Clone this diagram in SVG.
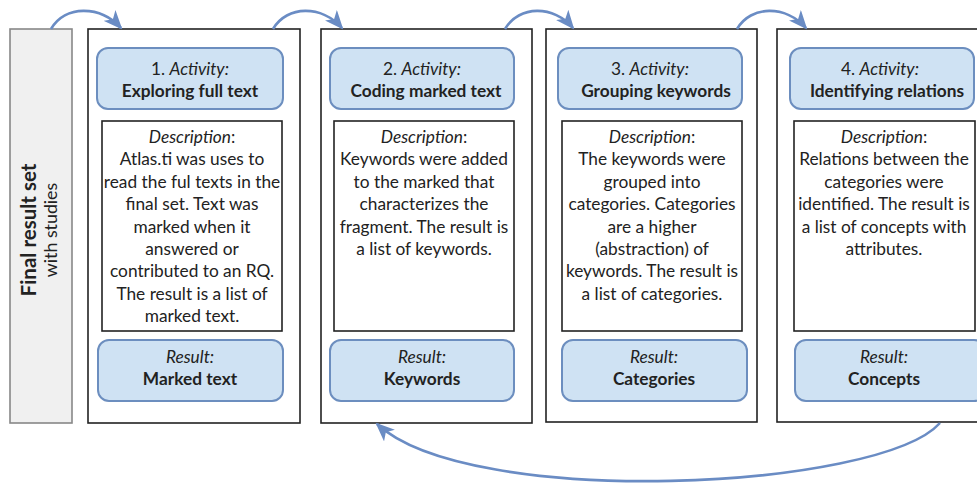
<svg xmlns="http://www.w3.org/2000/svg" width="977" height="483" viewBox="0 0 977 483">
  <defs>
    <marker id="head" markerUnits="userSpaceOnUse" markerWidth="19" markerHeight="16" viewBox="0 0 19 16" refX="17" refY="8" orient="auto">
      <path d="M0,0 L19,8 L0,16 L5,8 Z" fill="#6a8cc4"/>
    </marker>
    <style>
      .frame { fill: #ffffff; stroke: #222222; stroke-width: 1.6; }
      .source { fill: #f0f0f0; stroke: #888888; stroke-width: 1.6; }
      .pill { fill: #cfe2f3; stroke: #6c8ebf; stroke-width: 2; }
      .desc { fill: #ffffff; stroke: #222222; stroke-width: 1.6; }
      .flow { fill: none; stroke: #6a8cc4; stroke-width: 2.6; marker-end: url(#head); }
      text { font-family: Lato, "Open Sans", "Liberation Sans", sans-serif; font-size: 17.3px; fill: #222222; text-anchor: middle; }
      .b { font-weight: bold; }
      .i { font-style: italic; }
    </style>
  </defs>

  <!-- source set -->
  <g id="final-result-set">
    <rect class="source" x="10" y="29" width="62" height="394"/>
    <text class="b" transform="translate(36,230) rotate(-90)" style="font-size:20.5px">Final result set</text>
    <text transform="translate(57,230) rotate(-90)" style="font-size:17.8px">with studies</text>
  </g>

  <!-- step 1 -->
  <g id="step-1">
    <rect class="frame" x="88" y="29" width="212" height="394"/>
    <rect class="pill" x="97" y="48" width="186" height="61" rx="11"/>
    <text x="190" y="75">1. <tspan class="i">Activity:</tspan></text>
    <text class="b" x="190" y="97">Exploring full text</text>
    <rect class="desc" x="102" y="121" width="180" height="210"/>
    <text x="192" y="143"><tspan class="i">Description</tspan>:</text>
    <text x="192" y="165.4">Atlas.ti was uses to</text>
    <text x="192" y="187.8">read the ful texts in the</text>
    <text x="192" y="210.2">final set. Text was</text>
    <text x="192" y="232.6">marked when it</text>
    <text x="192" y="255">answered or</text>
    <text x="192" y="277.4">contributed to an RQ.</text>
    <text x="192" y="299.8">The result is a list of</text>
    <text x="192" y="322.2">marked text.</text>
    <rect class="pill" x="98" y="340" width="185" height="61" rx="11"/>
    <text class="i" x="190" y="363">Result:</text>
    <text class="b" x="190" y="385">Marked text</text>
  </g>

  <!-- step 2 -->
  <g id="step-2">
    <rect class="frame" x="321" y="29" width="211" height="394"/>
    <rect class="pill" x="330" y="48" width="184" height="61" rx="11"/>
    <text x="422" y="75">2. <tspan class="i">Activity:</tspan></text>
    <text class="b" x="426" y="97">Coding marked text</text>
    <rect class="desc" x="334" y="121" width="180" height="210"/>
    <text x="424" y="143"><tspan class="i">Description</tspan>:</text>
    <text x="424" y="165.4">Keywords were added</text>
    <text x="424" y="187.8">to the marked that</text>
    <text x="424" y="210.2">characterizes the</text>
    <text x="424" y="232.6">fragment. The result is</text>
    <text x="424" y="255">a list of keywords.</text>
    <rect class="pill" x="330" y="340" width="184" height="61" rx="11"/>
    <text class="i" x="422" y="363">Result:</text>
    <text class="b" x="422" y="385">Keywords</text>
  </g>

  <!-- step 3 -->
  <g id="step-3">
    <rect class="frame" x="546" y="29" width="211" height="393"/>
    <rect class="pill" x="558" y="48" width="184" height="61" rx="11"/>
    <text x="650" y="75">3. <tspan class="i">Activity:</tspan></text>
    <text class="b" x="656" y="97">Grouping keywords</text>
    <rect class="desc" x="562" y="121" width="180" height="210"/>
    <text x="652" y="143"><tspan class="i">Description</tspan>:</text>
    <text x="652" y="165.4">The keywords were</text>
    <text x="652" y="187.8">grouped into</text>
    <text x="652" y="210.2">categories. Categories</text>
    <text x="652" y="232.6">are a higher</text>
    <text x="652" y="255">(abstraction) of</text>
    <text x="652" y="277.4">keywords. The result is</text>
    <text x="652" y="299.8">a list of categories.</text>
    <rect class="pill" x="562" y="340" width="185" height="61" rx="11"/>
    <text class="i" x="654" y="363">Result:</text>
    <text class="b" x="654" y="385">Categories</text>
  </g>

  <!-- step 4 -->
  <g id="step-4">
    <rect class="frame" x="777" y="29" width="212" height="393"/>
    <rect class="pill" x="790" y="48" width="184" height="61" rx="11"/>
    <text x="880" y="75">4. <tspan class="i">Activity:</tspan></text>
    <text class="b" x="887" y="97">Identifying relations</text>
    <rect class="desc" x="794" y="121" width="181" height="210"/>
    <text x="884" y="143"><tspan class="i">Description</tspan>:</text>
    <text x="884" y="165.4">Relations between the</text>
    <text x="884" y="187.8">categories were</text>
    <text x="884" y="210.2">identified. The result is</text>
    <text x="884" y="232.6">a list of concepts with</text>
    <text x="884" y="255">attributes.</text>
    <rect class="pill" x="795" y="340" width="190" height="61" rx="11"/>
    <text class="i" x="884" y="363">Result:</text>
    <text class="b" x="884" y="385">Concepts</text>
  </g>

  <!-- flow between steps -->
  <g id="connectors">
    <path class="flow" d="M51,29 C65,5 100,5 121,28"/>
    <path class="flow" d="M273,29 C287,5 322,5 342,28"/>
    <path class="flow" d="M505,29 C519,5 554,5 573,28"/>
    <path class="flow" d="M737,29 C751,5 786,5 806,28"/>
    <path class="flow" d="M940,423 C880,490 470,510 377,424"/>
  </g>
</svg>
